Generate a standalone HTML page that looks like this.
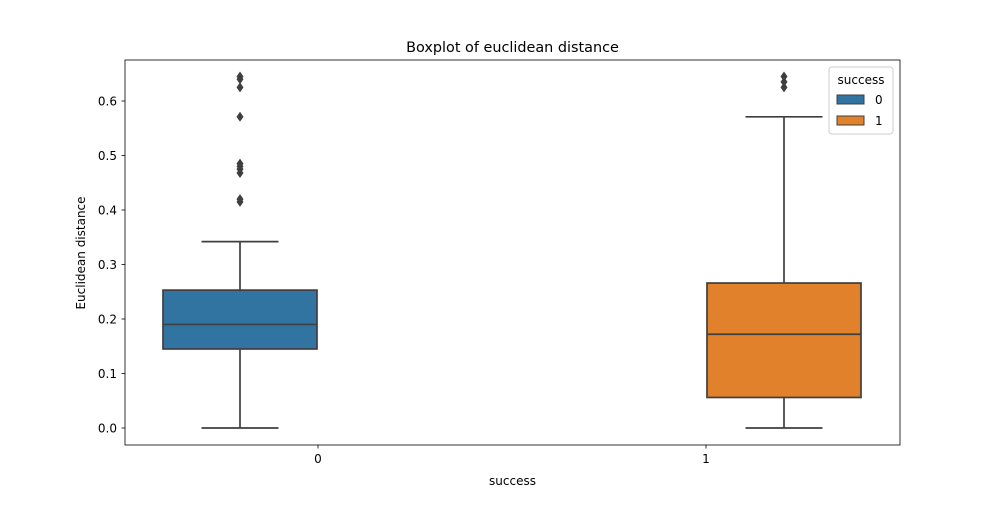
<!DOCTYPE html>
<html><head><meta charset="utf-8"><style>
body{margin:0;background:#fff;}
svg text{font-family:"DejaVu Sans","Liberation Sans",sans-serif;fill:#000;}
</style></head><body>
<svg id="c" width="1000" height="500" xmlns="http://www.w3.org/2000/svg">
<text x="512.5" y="52" font-size="14.4" text-anchor="middle">Boxplot of euclidean distance</text>
<text x="512.5" y="485" font-size="12" text-anchor="middle">success</text>
<text transform="translate(85,253) rotate(-90)" font-size="12" text-anchor="middle">Euclidean distance</text>
<g id="marks"></g>
<rect x="125" y="60" width="775" height="385" fill="none" stroke="#000" stroke-width="0.8"/>
<g>
<rect x="829" y="67" width="64" height="67" rx="3" fill="#fff" fill-opacity="0.8" stroke="#ccc"/>
<text x="861" y="84" font-size="12" text-anchor="middle">success</text>
<rect x="837" y="95" width="27" height="9" fill="#3274a1" stroke="#3f3f3f"/>
<text x="875" y="104" font-size="12">0</text>
<rect x="837" y="116" width="27" height="9" fill="#e1812c" stroke="#3f3f3f"/>
<text x="875" y="125" font-size="12">1</text>
</g>
</svg>
<script>
const categories=["0","1"];
const yTicks=[0,0.1,0.2,0.3,0.4,0.5,0.6];
const q1=[0.145,0.056];
const medians=[0.19,0.172];
const q3=[0.253,0.266];
const whiskLo=[0,0];
const whiskHi=[0.342,0.571];
const outliers0=[0.415,0.42,0.468,0.475,0.48,0.485,0.571,0.625,0.64,0.645];
const outliers1=[0.625,0.635,0.645];
const colors=["#3274a1","#e1812c"];
const NS="http://www.w3.org/2000/svg";
const g=document.getElementById('marks');
const svg=document.getElementById('c');
function y(v){return 428-v*545;}
function xc(i){return 318+i*388;}
const offs=[-78,78];
function el(t,a){const e=document.createElementNS(NS,t);for(const k in a)e.setAttribute(k,a[k]);return e;}
yTicks.forEach((v,i)=>{
 const t=el('line',{x1:121.5,x2:125,y1:y(v),y2:y(v),stroke:'#000','stroke-width':0.8});
 
 
 svg.appendChild(t);
 const l=el('text',{x:117,y:y(v)+4.5,'font-size':12,'text-anchor':'end'});
 l.textContent=v.toFixed(1);
 
 
 svg.appendChild(l);
});
categories.forEach((c,i)=>{
 const t=el('line',{x1:xc(i),x2:xc(i),y1:445,y2:448.5,stroke:'#000','stroke-width':0.8});
 
 
 svg.appendChild(t);
 const l=el('text',{x:xc(i),y:463,'font-size':12,'text-anchor':'middle'});
 l.textContent=c;
 
 
 svg.appendChild(l);
});
const outs=[outliers0,outliers1];
for(let i=0;i<2;i++){
 const cx=xc(i)+offs[i], hw=77, cap=38.5;
 const s={stroke:'#3f3f3f','stroke-width':1.7};
 const w1=el('line',Object.assign({x1:cx,x2:cx,y1:y(q3[i]),y2:y(whiskHi[i])},s));
 
 
 g.appendChild(w1);
 const w2=el('line',Object.assign({x1:cx,x2:cx,y1:y(q1[i]),y2:y(whiskLo[i])},s));
 
 
 g.appendChild(w2);
 const c1=el('line',Object.assign({x1:cx-cap,x2:cx+cap,y1:y(whiskHi[i]),y2:y(whiskHi[i])},s));
 
 
 g.appendChild(c1);
 const c2=el('line',Object.assign({x1:cx-cap,x2:cx+cap,y1:y(whiskLo[i]),y2:y(whiskLo[i])},s));
 
 
 g.appendChild(c2);
 const b=el('rect',Object.assign({x:cx-hw,y:y(q3[i]),width:2*hw,height:y(q1[i])-y(q3[i]),fill:colors[i]},s));
 
 
 g.appendChild(b);
 const m=el('line',Object.assign({x1:cx-hw,x2:cx+hw,y1:y(medians[i]),y2:y(medians[i])},s));
 
 
 g.appendChild(m);
 outs[i].forEach(v=>{
  const yy=y(v);
  const p=el('polygon',{points:`${cx},${yy-5} ${cx+3.5},${yy} ${cx},${yy+5} ${cx-3.5},${yy}`,fill:'#3f3f3f'});
  
  
  g.appendChild(p);
 });
}
</script>
</body></html>
